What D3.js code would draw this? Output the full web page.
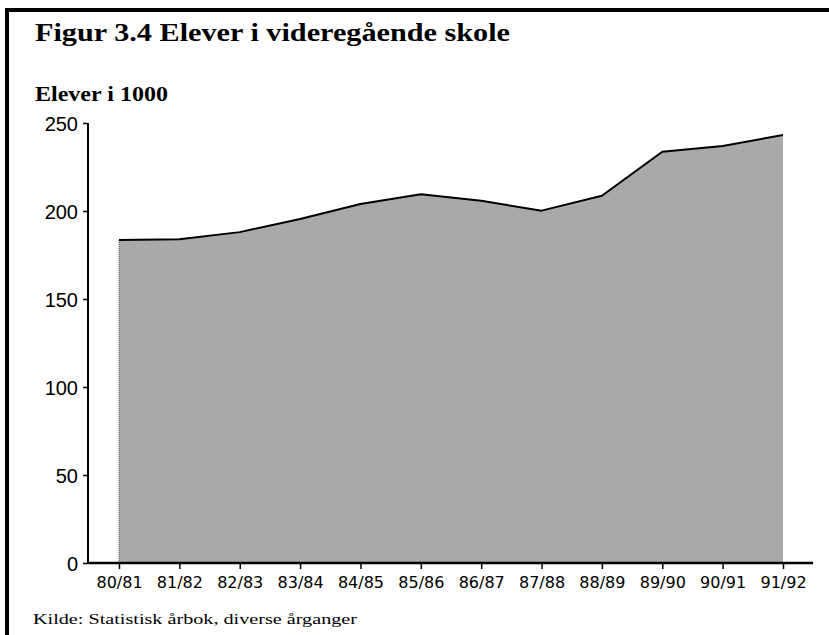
<!DOCTYPE html>
<html>
<head>
<meta charset="utf-8">
<script src="https://cdn.jsdelivr.net/npm/d3@7"></script>
<style>
  html, body { margin: 0; padding: 0; background: #fff; }
  svg { display: block; }
</style>
</head>
<body>
<svg id="chart" width="829" height="635"></svg>
<script>
const categories = ["80/81","81/82","82/83","83/84","84/85","85/86","86/87","87/88","88/89","89/90","90/91","91/92"];
const students = [183.5, 184, 188, 195.5, 204, 209.5, 205.8, 200.2, 208.7, 233.7, 236.9, 243.2];
const yTicks = [0, 50, 100, 150, 200, 250];
const titleText = "Figur 3.4 Elever i videregående skole";
const yLabelText = "Elever i 1000";
const sourceText = "Kilde: Statistisk årbok, diverse årganger";

const svg = d3.select("#chart");

// frame (left and top border)
svg.append("rect").attr("x", 5).attr("y", 8).attr("width", 824).attr("height", 4).attr("fill", "#000");
svg.append("rect").attr("x", 5).attr("y", 8).attr("width", 4).attr("height", 627).attr("fill", "#000");

const x = d3.scalePoint().domain(categories).range([119, 783]);
const y = d3.scaleLinear().domain([0, 250]).range([563, 123]);

const data = categories.map((c, i) => ({c, v: students[i]}));

// area
const area = d3.area().x(d => x(d.c)).y0(y(0)).y1(d => y(d.v));
svg.append("path").datum(data).attr("d", area).attr("fill", "#a9a9a9");
// dotted left edge
svg.append("line").attr("x1", x(categories[0])).attr("x2", x(categories[0]))
  .attr("y1", y(0)).attr("y2", y(students[0]))
  .attr("stroke", "#555").attr("stroke-width", 1).attr("stroke-dasharray", "1,1");
// top line
const line = d3.line().x(d => x(d.c)).y(d => y(d.v));
svg.append("path").datum(data).attr("d", line).attr("fill", "none")
  .attr("stroke", "#000").attr("stroke-width", 2).attr("stroke-linejoin", "round");

// y axis
const yAxis = svg.append("g").attr("transform", "translate(88,0)")
  .call(d3.axisLeft(y).tickValues(yTicks).tickSize(5).tickPadding(5).tickFormat(d3.format("d")));
yAxis.select(".domain").attr("d", `M0,${y(250)}V${y(0)}`).attr("stroke", "#000").attr("stroke-width", 2);
yAxis.selectAll(".tick line").attr("stroke", "#000").attr("stroke-width", 1.5);
yAxis.selectAll(".tick text").attr("font-family", "'Liberation Sans', Arial, sans-serif")
  .attr("font-size", 20).attr("fill", "#000").attr("dy", "0.36em");

// x axis
const xAxis = svg.append("g").attr("transform", `translate(0,${y(0)})`)
  .call(d3.axisBottom(x).tickSize(6).tickPadding(8));
xAxis.select(".domain").attr("d", "M88,0H813").attr("stroke", "#000").attr("stroke-width", 2.5);
xAxis.selectAll(".tick line").attr("stroke", "#000").attr("stroke-width", 1.5);
xAxis.selectAll(".tick text").attr("font-family", "'DejaVu Sans', sans-serif")
  .attr("font-size", 16).attr("fill", "#000").attr("dy", "0.71em");

// titles
svg.append("text").attr("x", 35).attr("y", 41).text(titleText)
  .attr("font-family", "'Liberation Serif', serif").attr("font-weight", "bold")
  .attr("font-size", 26).attr("fill", "#000")
  .attr("textLength", 475).attr("lengthAdjust", "spacingAndGlyphs");
svg.append("text").attr("x", 35).attr("y", 101).text(yLabelText)
  .attr("font-family", "'Liberation Serif', serif").attr("font-weight", "bold")
  .attr("font-size", 21).attr("fill", "#000")
  .attr("textLength", 133).attr("lengthAdjust", "spacingAndGlyphs");
svg.append("text").attr("x", 33).attr("y", 624).text(sourceText)
  .attr("font-family", "'Liberation Serif', serif")
  .attr("font-size", 15).attr("fill", "#000")
  .attr("textLength", 324).attr("lengthAdjust", "spacingAndGlyphs");
</script>
</body>
</html>
